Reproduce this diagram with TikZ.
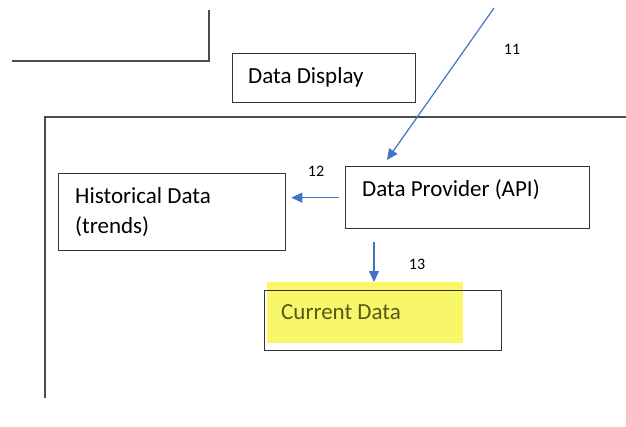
\documentclass[tikz,border=0pt]{standalone}
\usepackage{fontspec}
\setmainfont{Carlito}
\usetikzlibrary{arrows.meta}

\definecolor{arrowblue}{RGB}{68,114,196}
\definecolor{hlyellow}{RGB}{247,247,105}
\definecolor{hltext}{RGB}{88,88,24}

\tikzset{
  box/.style={draw=black!80, line width=1.3pt, anchor=north west, inner sep=0pt},
  txt/.style={anchor=west, inner sep=0pt, align=left, font=\fontsize{23}{30}\selectfont},
  num/.style={inner sep=0pt, font=\fontsize{16}{18}\selectfont},
  frame/.style={draw=black!70, line width=1.5pt},
  flow/.style={draw=arrowblue, line width=1.2pt, -{Triangle[length=11pt,width=10pt]}}
}

\begin{document}
\begin{tikzpicture}[x=1pt,y=-1pt]

\useasboundingbox (0,0) rectangle (626,426);

\draw[frame] (209,10) -- (209,61) -- (12,61);
\draw[frame] (626,117) -- (45,117) -- (45,398);

\node[box, minimum width=183, minimum height=49] (disp) at (232,53) {};
\node[txt] (disptxt) at (248,77) {Data Display};

\node[box, minimum width=244, minimum height=62] (prov) at (345,166) {};
\node[txt] (provtxt) at (362,190) {Data Provider (API)};

\node[box, minimum width=227, minimum height=77] (hist) at (58,173) {};
\node[txt] (histtxt) at (75,212) {Historical Data\\(trends)};

\node[fill=hlyellow, inner sep=0pt, anchor=north west, minimum width=196, minimum height=61] (hl) at (267,282) {};
\node[box, minimum width=237, minimum height=60] (cur) at (264,290) {};
\node[txt, text=hltext] (curtxt) at (281,312) {Current Data};

\node[num] (n11) at (512,49) {11};
\node[num] (n12) at (316,171) {12};
\node[num] (n13) at (417,264) {13};

\coordinate (a11) at (494,8);
\coordinate (p11) at (387,160);
\coordinate (a13) at (374,242);

\draw[flow] (a11) -- (p11);
\draw[flow, shorten <=6pt, shorten >=5pt] (prov.west) -- (prov.west -| hist.east);
\draw[flow] (a13) -- (a13 |- hl.north);

\end{tikzpicture}
\end{document}
